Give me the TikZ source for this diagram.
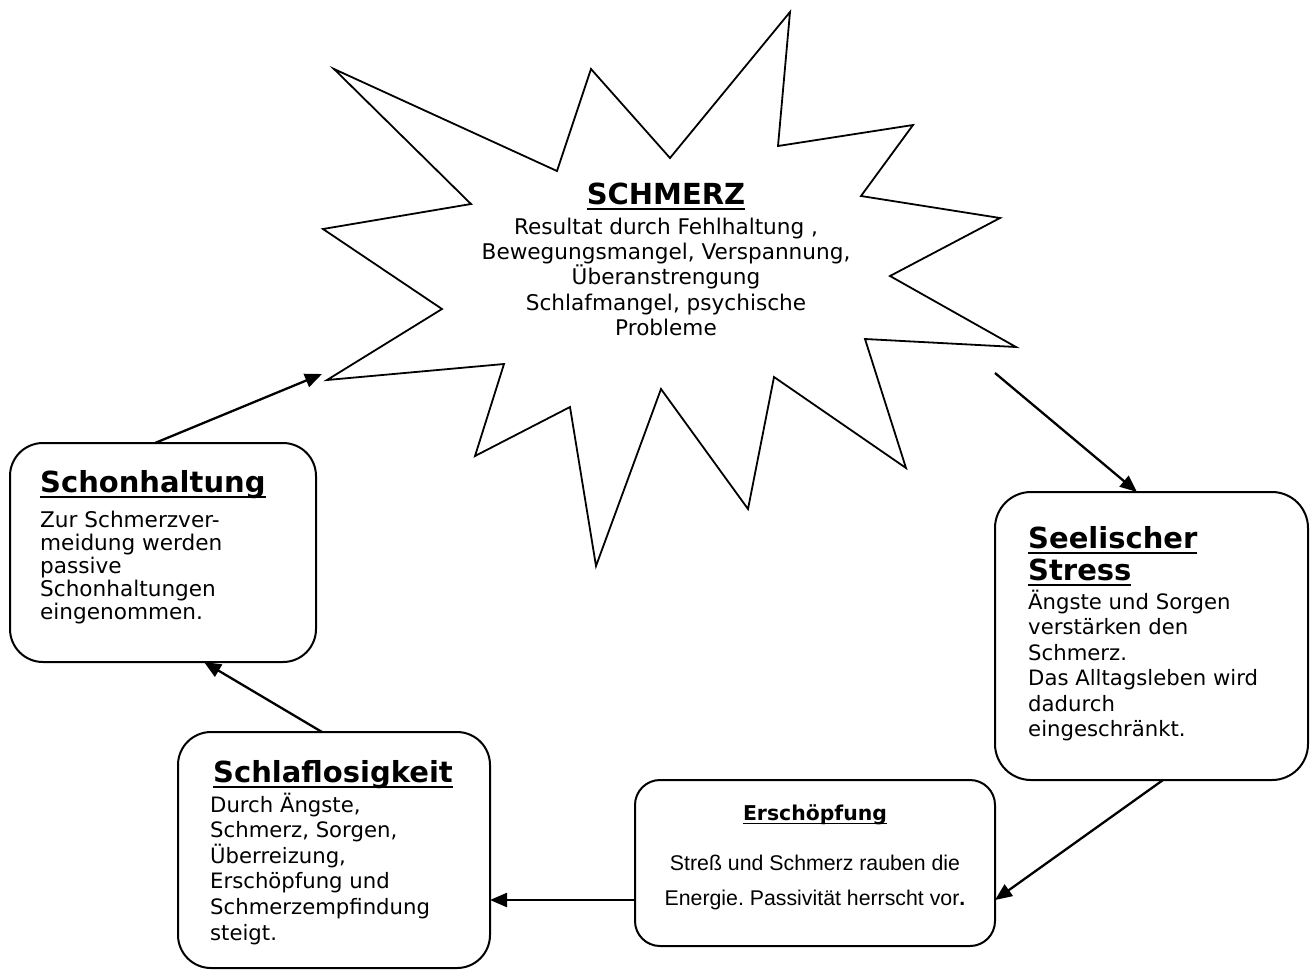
\documentclass[tikz,border=0pt]{standalone}
\usepackage{fontspec}
\setmainfont{DejaVu Sans}
\newfontfamily\arialfont{Liberation Sans}
\usetikzlibrary{arrows.meta}
\frenchspacing
\newsavebox\ulsave
\newcommand\ulbox[1]{\sbox\ulsave{#1}\rlap{\rule[-0.2em]{\wd\ulsave}{0.075em}}\usebox\ulsave}
\begin{document}
\begin{tikzpicture}[x=1pt,y=-1pt,
  box/.style={draw, line width=2pt, rounded corners=33pt, inner sep=0pt, outer sep=0pt},
  ttl/.style={anchor=base west, inner sep=0pt, font=\fontsize{29}{34}\selectfont\bfseries},
  bodytxt/.style 2 args={anchor=base west, inner sep=0pt, align=left, font=\fontsize{#1}{#2}\selectfont},
  arr/.style={-{Triangle[length=17pt,width=14pt]}, line width=2.3pt, shorten >=0pt}]
\useasboundingbox (0,0) rectangle (1311,970);
% star
\draw[line width=1.8pt, line join=miter]
  (334,69) -- (557,171) -- (591,69) -- (670,158) -- (790,12) -- (778,146)
  -- (913,125) -- (861,196) -- (1000,218) -- (890,276) -- (1016,347)
  -- (865,339) -- (906,468) -- (774,377) -- (748,509) -- (661,389)
  -- (596,566) -- (570,407) -- (475,456) -- (504,364) -- (327,380)
  -- (442,309) -- (323,229) -- (471,204) -- cycle;
\node[anchor=base, inner sep=0pt, font=\fontsize{29}{34}\selectfont\bfseries] (schmerz) at (666,204) {\ulbox{SCHMERZ}};
\node[anchor=base, inner sep=0pt, align=center, font=\fontsize{21.6}{25.35}\selectfont] (schmerztext) at (666,335.4)
  {Resultat durch Fehlhaltung ,\\Bewegungsmangel, Verspannung,\\Überanstrengung\\Schlafmangel, psychische\\Probleme};
\coordinate (starin) at (322,374);
\coordinate (starout) at (995,373);
% boxes
\node[box, minimum width=306pt, minimum height=219pt] (schon) at (163,552.5) {};
\node[ttl] (schontitle) at (40,492) {\ulbox{Schonhaltung}};
\node[bodytxt={21.6}{23}] (schontext) at (40,619)
  {Zur Schmerzver-\\meidung werden\\passive\\Schonhaltungen\\eingenommen.};
\node[box, minimum width=313pt, minimum height=288pt, rounded corners=36pt] (seele) at (1151.5,636) {};
\node[ttl, align=left, font=\fontsize{29}{32}\selectfont\bfseries] (seeletitle) at (1028,580) {\ulbox{Seelischer}\\\ulbox{Stress}};
\node[bodytxt={21.2}{25.5}] (seeletext) at (1028,736.5)
  {Ängste und Sorgen\\verstärken den\\Schmerz.\\Das Alltagsleben wird\\dadurch\\eingeschränkt.};
\node[box, minimum width=360pt, minimum height=166pt, rounded corners=25pt] (ersch) at (815,863) {};
\node[anchor=base, inner sep=0pt, font=\fontsize{20.4}{24}\selectfont\bfseries] (erschtitle) at (815,820) {\ulbox{Erschöpfung}};
\node[anchor=base, inner sep=0pt, align=center, font=\arialfont\fontsize{21.3}{35}\selectfont] (erschtext) at (815,905)
  {Streß und Schmerz rauben die\\Energie. Passivität herrscht vor{\bfseries.}};
\node[box, minimum width=312pt, minimum height=236pt] (schlaf) at (334,850) {};
\node[ttl] (schlaftitle) at (213,782) {\ulbox{Schlaflosigkeit}};
\node[bodytxt={21.2}{25.6}] (schlaftext) at (210,940)
  {Durch Ängste,\\Schmerz, Sorgen,\\Überreizung,\\Erschöpfung und\\Schmerzempfindung\\steigt.};
% connectors
\draw[arr] ([xshift=-8pt]schon.north) -- (starin);
\draw[arr] (starout) -- ([xshift=-14.5pt]seele.north);
\draw[arr] ([xshift=11.5pt]seele.south) -- ([yshift=-37pt]ersch.east);
\draw[arr] ([yshift=-37pt]ersch.west) -- ([yshift=-37pt]ersch.west -| schlaf.east);
\draw[arr] ([xshift=-12pt]schlaf.north) -- ([xshift=41pt]schon.south);
\end{tikzpicture}
\end{document}
